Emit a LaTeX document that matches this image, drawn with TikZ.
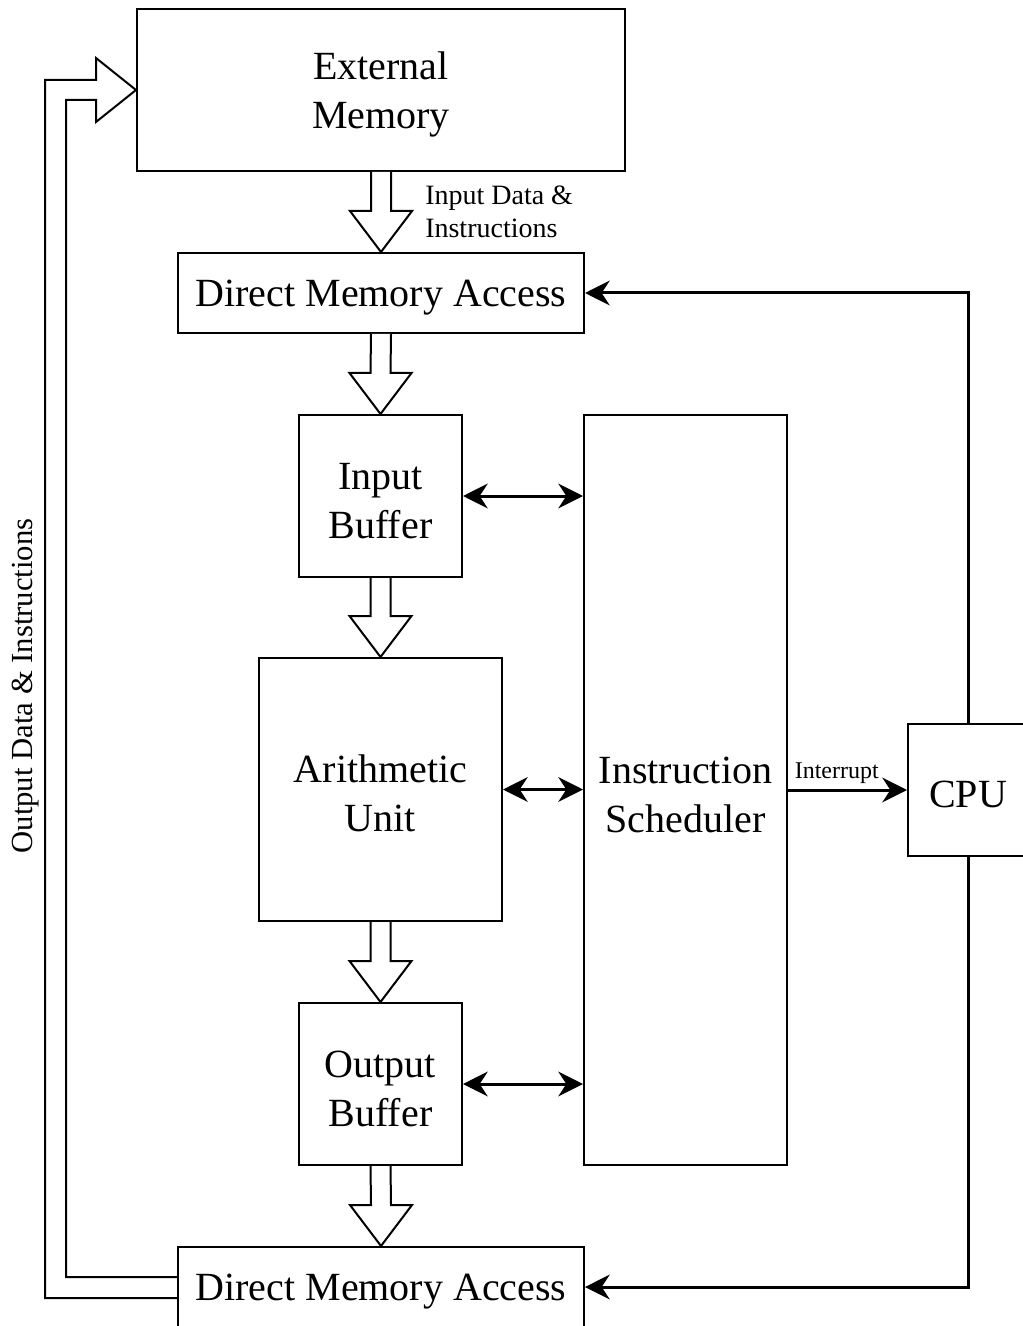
\documentclass[tikz,border=0pt]{standalone}
\usepackage{fontspec}
\setmainfont{Liberation Serif}
\usepackage{tikz}
\usetikzlibrary{calc,arrows.meta}

% hollow block arrow between two stacked boxes
\newcommand{\fatarrow}[2]{%
  \draw[hollow] ($(#1.south)+(-10,0)$) -- ($(#2.north)+(-10,-41)$) -- ($(#2.north)+(-31,-41)$) -- (#2.north) -- ($(#2.north)+(31,-41)$) -- ($(#2.north)+(10,-41)$) -- ($(#1.south)+(10,0)$);}
% pushes the box text a little down
\newcommand{\txtstrut}{\rule{0pt}{27pt}}

\begin{document}
\begin{tikzpicture}[x=0.75pt,y=-0.75pt,
    block/.style={draw, line width=1.5pt, inner sep=0pt, align=center, font=\fontsize{30}{36.5}\selectfont},
    hollow/.style={draw, line width=1.5pt, fill=white, line join=miter},
    link/.style={line width=2.25pt, -{Stealth[length=18.5pt,width=18.5pt]}},
    biglink/.style={line width=2.25pt, {Stealth[length=18.5pt,width=18.5pt]}-{Stealth[length=18.5pt,width=18.5pt]}},
    note/.style={inner sep=0pt, align=left, font=\fontsize{21}{25}\selectfont}]
  \useasboundingbox (0,0) rectangle (1023,1326);

  % Nodes
  \node[block, minimum width=366pt, minimum height=121.5pt] (extmem) at (381,90) {\txtstrut External\\Memory}; %
  \node[block, minimum width=304.5pt, minimum height=60pt] (dmatop) at (381,293) {\txtstrut Direct Memory Access}; %
  \node[block, minimum width=122.25pt, minimum height=121.5pt] (inbuf) at (380.5,496) {\txtstrut Input\\Buffer}; %
  \node[block, minimum width=182.25pt, minimum height=197.25pt] (arith) at (380.5,789.5) {\txtstrut Arithmetic\\Unit}; %
  \node[block, minimum width=122.25pt, minimum height=121.5pt] (outbuf) at (380.5,1084) {\txtstrut Output\\Buffer}; %
  \node[block, minimum width=304.5pt, minimum height=60pt] (dmabot) at (381,1287) {\txtstrut Direct Memory Access}; %
  \node[block, minimum width=152.25pt, minimum height=562.5pt] (sched) at (685.5,790) {\txtstrut Instruction\\Scheduler}; %
  \node[block, minimum width=90pt, minimum height=99pt] (cpu) at (968,790) {\txtstrut CPU}; %

  % data path
  \fatarrow{extmem}{dmatop}
  \fatarrow{dmatop}{inbuf}
  \fatarrow{inbuf}{arith}
  \fatarrow{arith}{outbuf}
  \fatarrow{outbuf}{dmabot}
  \node[note, anchor=west] (indata) at (425,212) {Input Data \&\\Instructions};

  % way back to memory
  \draw[hollow, fill=none] ($(dmabot.west)+(0,11)$) -| ($(extmem.west)+(-91,-10)$) -- ($(extmem.west)+(-40,-10)$) -- ++(0,-22) -- (extmem.west) -- ($(extmem.west)+(-40,32)$) -- ++(0,-22) -| ($(dmabot.west)+(-111,-10)$) -- ($(dmabot.west)+(0,-10)$);
  \node[note, rotate=90, font=\fontsize{23}{27}\selectfont] (outdata) at (26,686) {Output Data \& Instructions};

  % control
  \draw[biglink] (inbuf.east) -- (inbuf.east -| sched.west);
  \draw[biglink] (arith.east) -- (arith.east -| sched.west);
  \draw[biglink] (outbuf.east) -- (outbuf.east -| sched.west);
  \draw[link] (sched.east |- cpu.west) -- node[pos=0.41, above=4pt, inner sep=0pt, font=\fontsize{18}{20}\selectfont] (intr) {Interrupt} (cpu.west);
  \draw[link] (cpu.north) |- (dmatop.east);
  \draw[link] (cpu.south) |- (dmabot.east);
\end{tikzpicture}
\end{document}
